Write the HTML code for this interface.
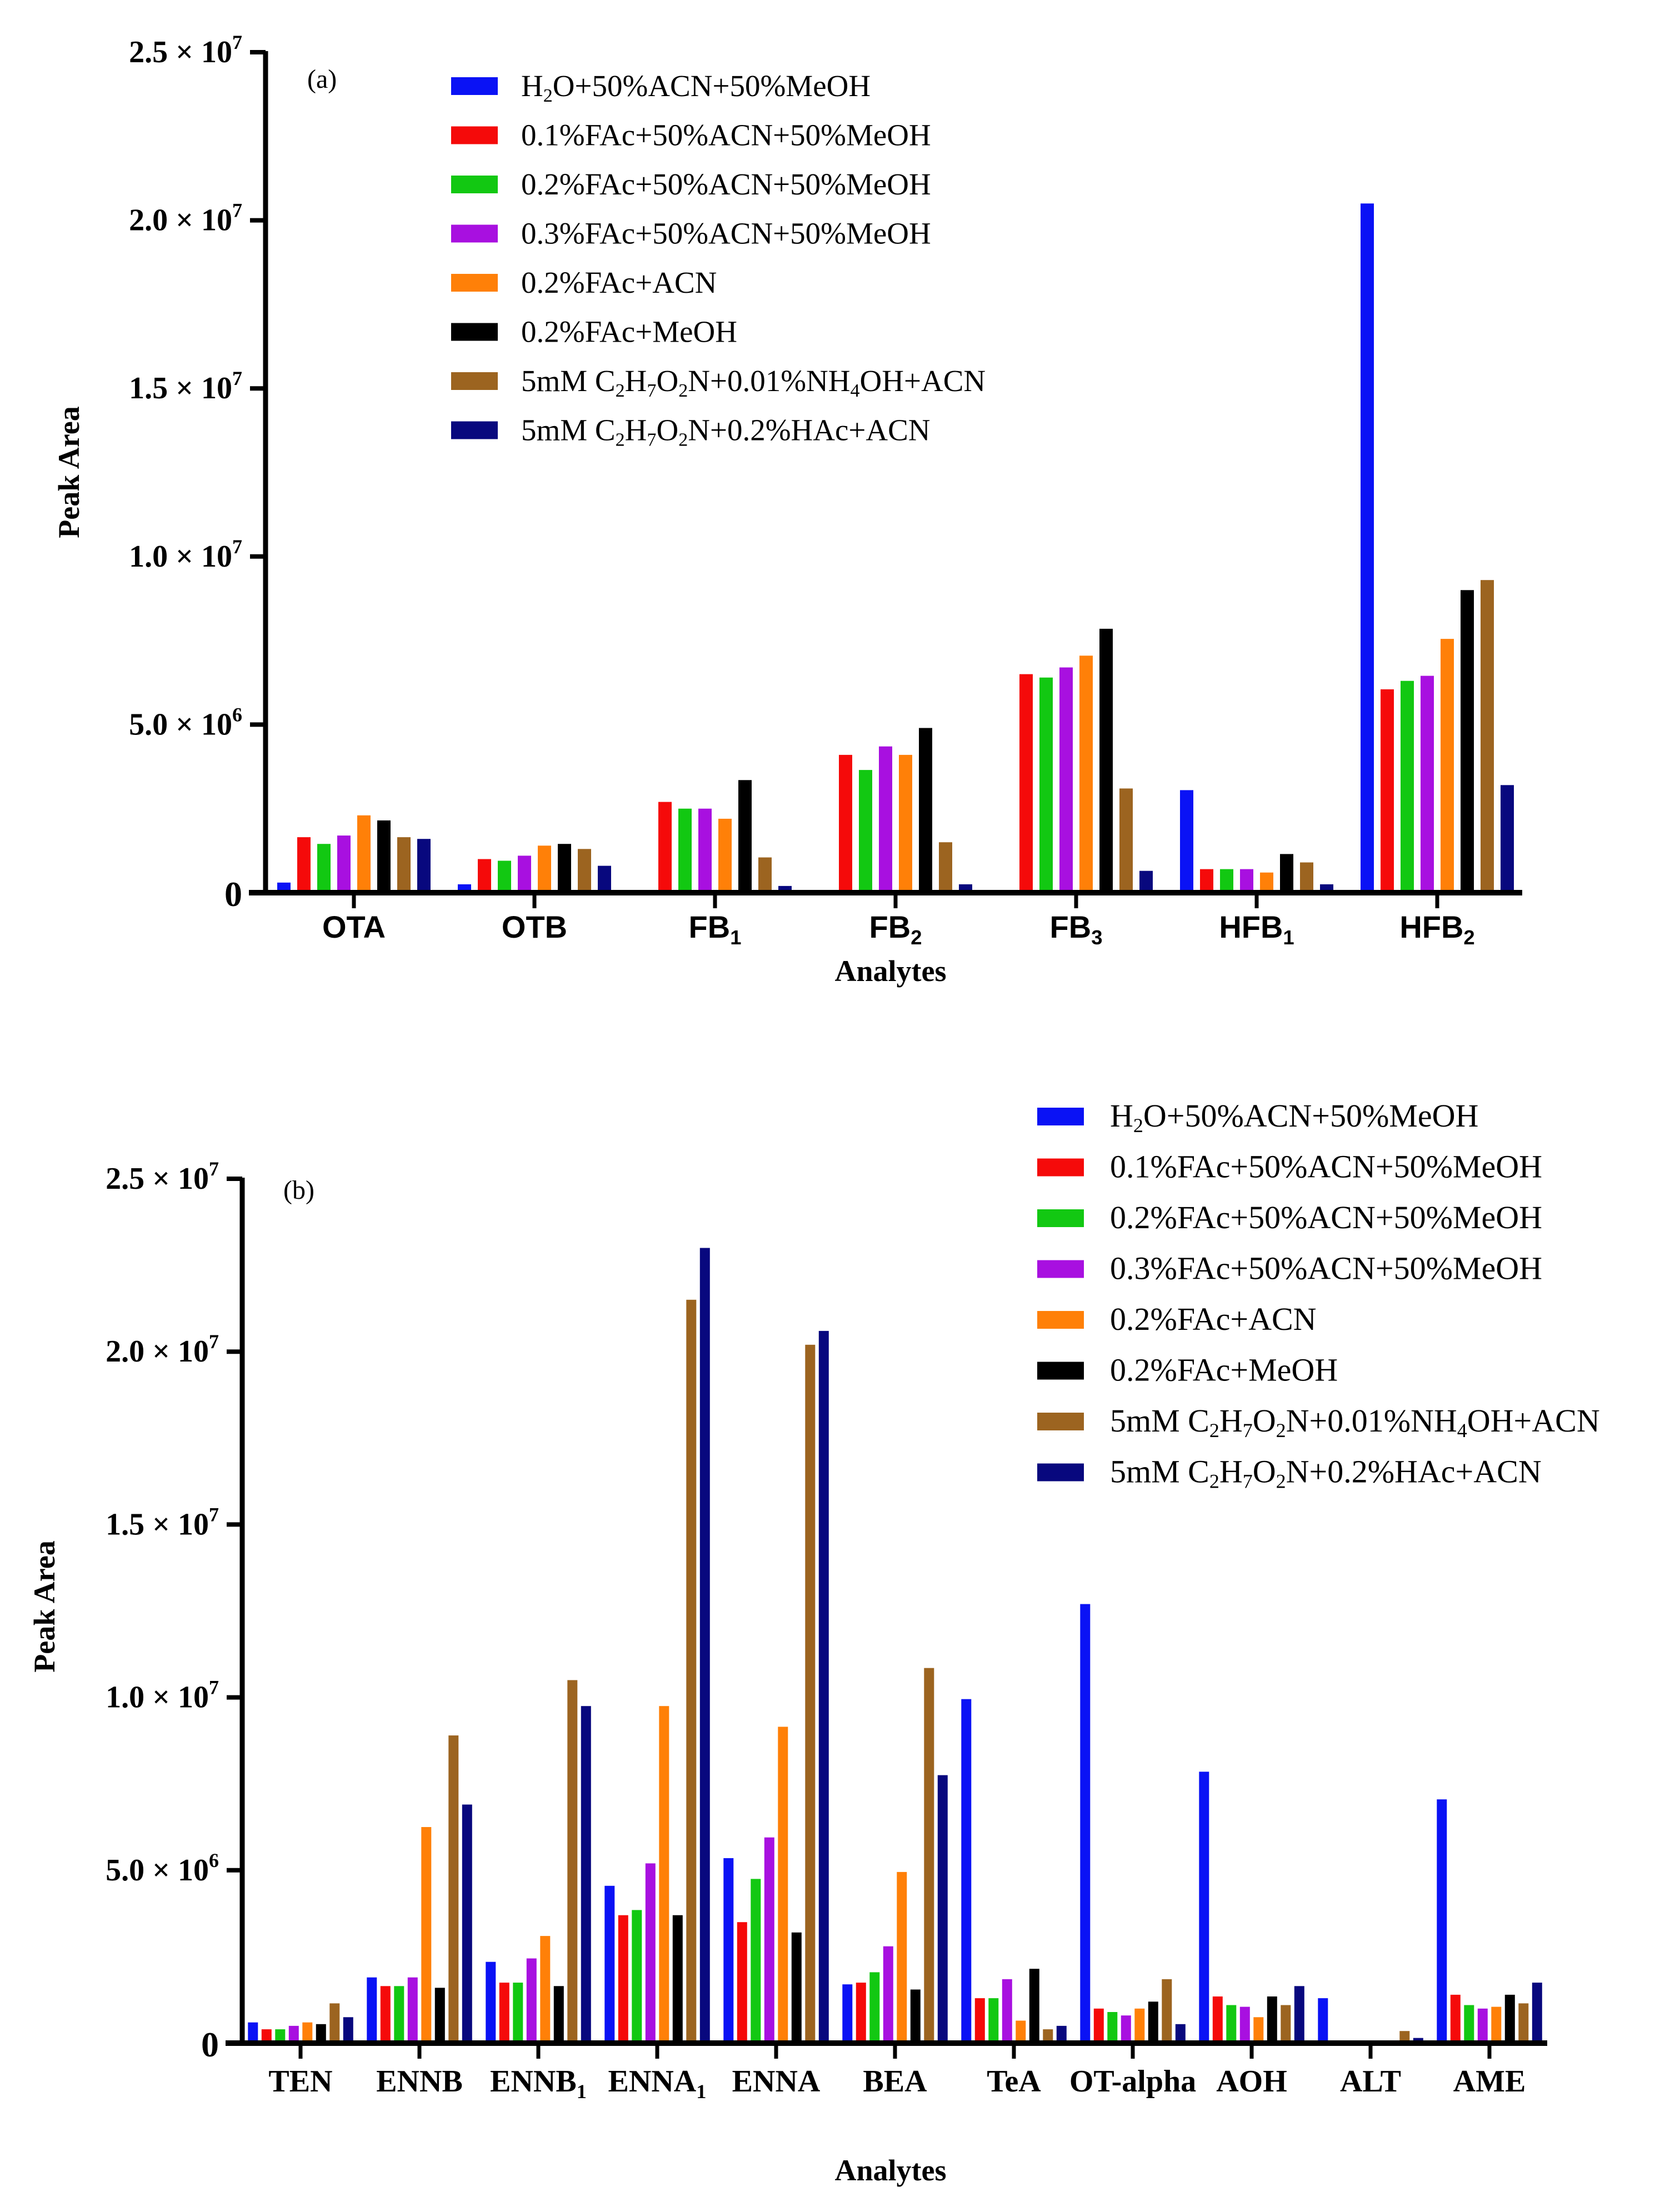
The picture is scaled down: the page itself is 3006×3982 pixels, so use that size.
<!DOCTYPE html>
<html><head><meta charset="utf-8"><style>
html,body{margin:0;padding:0;background:#fff}
svg{display:block}
text{font-family:"Liberation Serif",serif}
</style></head><body>
<svg id="fig" xmlns="http://www.w3.org/2000/svg" width="3006" height="3982" viewBox="0 0 3006 3982">
<rect width="3006" height="3982" fill="#fff"/>
<g id="chartA"></g>
<g id="chartB"></g>
</svg>
<script>
// ---- shared data ----
const seriesColors = ["#0a12f5","#f50a0a","#12c812","#a810e0","#ff8008","#000000","#9c6420","#08087e"];
const yTickValues = [0, 5e6, 1e7, 1.5e7, 2e7, 2.5e7];
const yTickMantissa = ["0","5.0","1.0","1.5","2.0","2.5"];
const yTickExp = ["","6","7","7","7","7"];

// ---- chart (a) data (units of 1e6) ----
const catsA = [["OTA",""],["OTB",""],["FB","1"],["FB","2"],["FB","3"],["HFB","1"],["HFB","2"]];
const A_s1 = [0.3, 0.25, 0, 0, 0, 3.05, 20.5];
const A_s2 = [1.65, 1.0, 2.7, 4.1, 6.5, 0.7, 6.05];
const A_s3 = [1.45, 0.95, 2.5, 3.65, 6.4, 0.7, 6.3];
const A_s4 = [1.7, 1.1, 2.5, 4.35, 6.7, 0.7, 6.45];
const A_s5 = [2.3, 1.4, 2.2, 4.1, 7.05, 0.6, 7.55];
const A_s6 = [2.15, 1.45, 3.35, 4.9, 7.85, 1.15, 9.0];
const A_s7 = [1.65, 1.3, 1.05, 1.5, 3.1, 0.9, 9.3];
const A_s8 = [1.6, 0.8, 0.2, 0.25, 0.65, 0.25, 3.2];

// ---- chart (b) data (units of 1e6) ----
const catsB = [["TEN",""],["ENNB",""],["ENNB","1"],["ENNA","1"],["ENNA",""],["BEA",""],["TeA",""],["OT-alpha",""],["AOH",""],["ALT",""],["AME",""]];
const B_s1 = [0.6, 1.9, 2.35, 4.55, 5.35, 1.7, 9.95, 12.7, 7.85, 1.3, 7.05];
const B_s2 = [0.4, 1.65, 1.75, 3.7, 3.5, 1.75, 1.3, 1.0, 1.35, 0.05, 1.4];
const B_s3 = [0.4, 1.65, 1.75, 3.85, 4.75, 2.05, 1.3, 0.9, 1.1, 0, 1.1];
const B_s4 = [0.5, 1.9, 2.45, 5.2, 5.95, 2.8, 1.85, 0.8, 1.05, 0, 1.0];
const B_s5 = [0.6, 6.25, 3.1, 9.75, 9.15, 4.95, 0.65, 1.0, 0.75, 0, 1.05];
const B_s6 = [0.55, 1.6, 1.65, 3.7, 3.2, 1.55, 2.15, 1.2, 1.35, 0, 1.4];
const B_s7 = [1.15, 8.9, 10.5, 21.5, 20.2, 10.85, 0.4, 1.85, 1.1, 0.35, 1.15];
const B_s8 = [0.75, 6.9, 9.75, 23.0, 20.6, 7.75, 0.5, 0.55, 1.65, 0.15, 1.75];

const legendLabels = [
  [["H"],["2","sub"],["O+50%ACN+50%MeOH"]],
  [["0.1%FAc+50%ACN+50%MeOH"]],
  [["0.2%FAc+50%ACN+50%MeOH"]],
  [["0.3%FAc+50%ACN+50%MeOH"]],
  [["0.2%FAc+ACN"]],
  [["0.2%FAc+MeOH"]],
  [["5mM C"],["2","sub"],["H"],["7","sub"],["O"],["2","sub"],["N+0.01%NH"],["4","sub"],["OH+ACN"]],
  [["5mM C"],["2","sub"],["H"],["7","sub"],["O"],["2","sub"],["N+0.2%HAc+ACN"]]
];

const NS = "http://www.w3.org/2000/svg";
function mk(parent, tag, attrs, txt){
  const e = document.createElementNS(NS, tag);
  for (const k in attrs) e.setAttribute(k, attrs[k]);
  if (txt !== undefined) e.textContent = txt;
  parent.appendChild(e);
  return e;
}
function richText(t, parts, subSize){
  parts.forEach(p=>{
    const ts = mk(t, "tspan", {}, p[0]);
    if (p[1]==="sub"){ ts.setAttribute("font-size", subSize); ts.setAttribute("dy","10"); }
    else if (p[1]==="sup"){ ts.setAttribute("font-size", subSize); ts.setAttribute("dy","-22"); }
    else if (t.lastSub){ ts.setAttribute("dy","-10"); }
    t.lastSub = (p[1]==="sub");
  });
}

function drawChart(g, cfg){
  const yScale = v => cfg.y0 - (v / 2.5e7) * (cfg.y0 - cfg.yTop);
  const xCenter = i => cfg.x0 + i * cfg.step;
  // bars
  cfg.series.forEach((vals, s)=>{
    vals.forEach((v, i)=>{
      const val = v * 1e6;
      const x = xCenter(i) + (s - 3.5) * cfg.pitch - cfg.barW/2;
      const y = yScale(val);
      const r = mk(g, "rect", {x:x.toFixed(1), y:y.toFixed(1), width:cfg.barW, height:Math.max(0, cfg.y0 - y).toFixed(1), fill:seriesColors[s]});
      
      
    });
  });
  // axes
  const ax = mk(g, "line", {x1:cfg.axX, y1:cfg.yTop-2, x2:cfg.axX, y2:cfg.y0+4, stroke:"#000","stroke-width":9});
  
  
  const bx = mk(g, "line", {x1:cfg.axX-30, y1:cfg.y0, x2:cfg.axEnd, y2:cfg.y0, stroke:"#000","stroke-width":10});
  
  
  // y ticks
  yTickValues.forEach((v, k)=>{
    const y = yScale(v);
    mk(g, "line", {x1:cfg.axX-28, y1:y, x2:cfg.axX, y2:y, stroke:"#000","stroke-width":8});
    const t = mk(g, "text", {x:cfg.axX-42, y:y+18, "text-anchor":"end", "font-size":56, "font-weight":"bold"});
    
    
    if (yTickExp[k]===""){ t.textContent = yTickMantissa[k]; t.setAttribute("y", y+24); t.setAttribute("font-size",64); }
    else {
      mk(t, "tspan", {}, yTickMantissa[k] + " \u00d7 10");
      mk(t, "tspan", {"font-size":36, dy:-24}, yTickExp[k]);
    }
  });
  // x ticks & labels
  cfg.catNames.forEach((c, i)=>{
    const x = xCenter(i);
    mk(g, "line", {x1:x, y1:cfg.y0, x2:x, y2:cfg.y0+28, stroke:"#000","stroke-width":7});
    const t = mk(g, "text", {x:x, y:cfg.labelY, "text-anchor":"middle", "font-size":cfg.catSize, "font-weight":"bold"});
    
    
    if (cfg.catFont) t.setAttribute("style", "font-family:" + cfg.catFont);
    mk(t, "tspan", {}, c[0]);
    if (c[1]) mk(t, "tspan", {"font-size":cfg.catSize*0.65, dy:12}, c[1]);
  });
  // axis titles
  const xt = mk(g, "text", {x:cfg.xTitleX, y:cfg.xTitleY, "text-anchor":"middle", "font-size":54, "font-weight":"bold"}, "Analytes");
  
  
  const yt = mk(g, "text", {x:0, y:0, "text-anchor":"middle", "font-size":54, "font-weight":"bold", transform:`translate(${cfg.yTitleX},${cfg.yTitleY}) rotate(-90)`}, "Peak Area");
  
  
  const pl = mk(g, "text", {x:cfg.panelX, y:cfg.panelY, "font-size":48}, cfg.panel);
  
  
  // legend
  legendLabels.forEach((parts, s)=>{
    const y = cfg.legY + s * cfg.legStep;
    const sw = mk(g, "rect", {x:cfg.legX, y:y-16, width:84, height:32, fill:seriesColors[s]});
    
    
    const t = mk(g, "text", {x:cfg.legTextX, y:y+18, "font-size":cfg.legSize});
    
    
    richText(t, parts, cfg.legSize*0.62);
  });
}

drawChart(document.getElementById("chartA"), {
  series:[A_s1,A_s2,A_s3,A_s4,A_s5,A_s6,A_s7,A_s8], catNames:catsA,
  y0:1607, yTop:94, axX:478, axEnd:2740, x0:637, step:325, pitch:36, barW:24,
  labelY:1688, catSize:56, catFont:'"Liberation Sans",sans-serif',
  xTitleX:1603, xTitleY:1766, yTitleX:142, yTitleY:850,
  panel:"(a)", panelX:553, panelY:158,
  legX:812, legTextX:938, legY:155, legStep:88.5, legSize:55
});
drawChart(document.getElementById("chartB"), {
  series:[B_s1,B_s2,B_s3,B_s4,B_s5,B_s6,B_s7,B_s8], catNames:catsB,
  y0:3678, yTop:2122, axX:436, axEnd:2785, x0:541, step:214, pitch:24.5, barW:18,
  labelY:3765, catSize:56,
  xTitleX:1603, xTitleY:3925, yTitleX:98, yTitleY:2892,
  panel:"(b)", panelX:510, panelY:2158,
  legX:1867, legTextX:1998, legY:2010, legStep:91.5, legSize:58
});
</script>
</body></html>
